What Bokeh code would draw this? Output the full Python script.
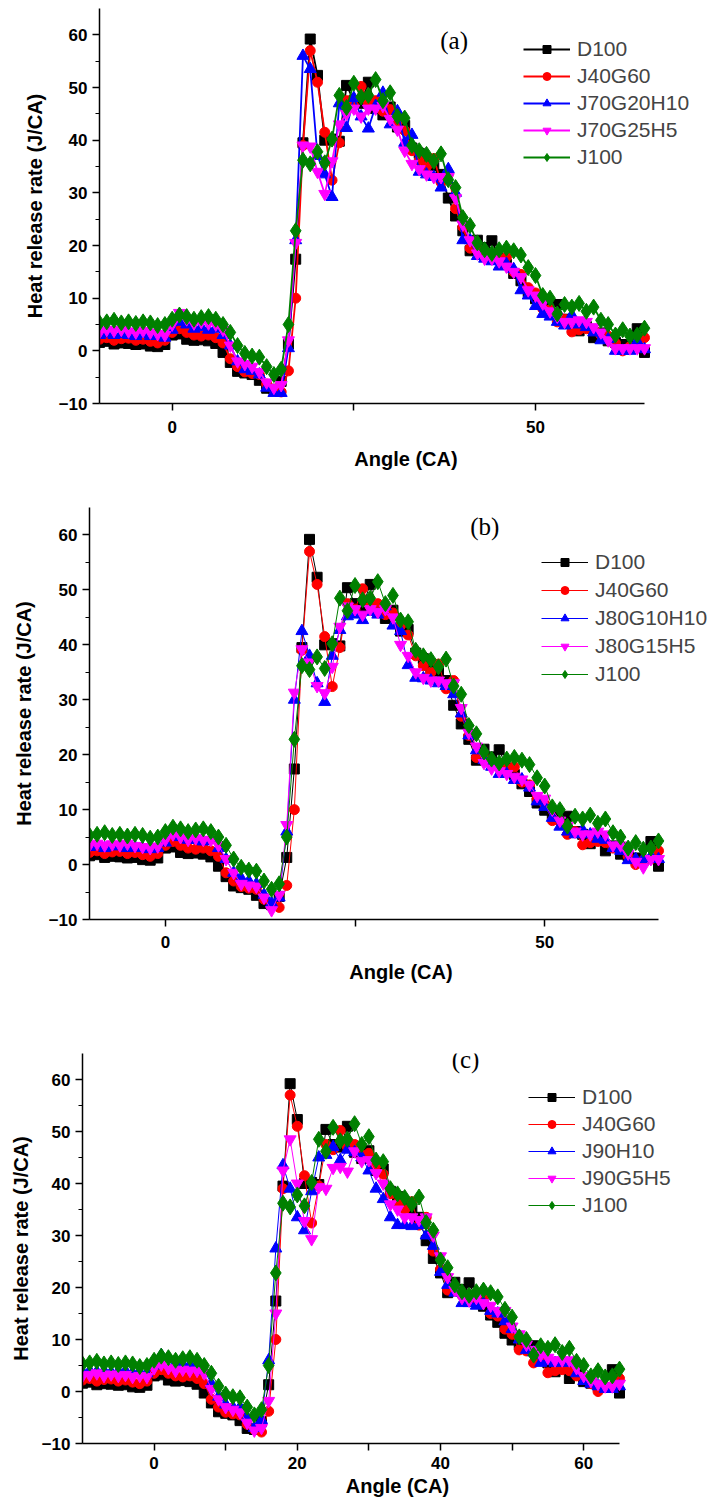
from bokeh.plotting import figure
from bokeh.models import Range1d, FixedTicker, Legend, LegendItem, Label
from bokeh.embed import file_html
from bokeh.resources import INLINE

ANGLE = list(range(-10, 66))

D100 = [1.6, 1.8, 1.3, 1.5, 1.4, 1.2, 1.3, 0.9, 0.8, 1.2,
        3.0, 3.2, 2.2, 2.0, 2.1, 1.9, 1.4, -0.3, -2.2, -3.9,
        -4.2, -4.5, -5.6, -7.1, -7.3, -5.8, 1.3, 17.4, 39.5, 59.2,
        52.3, 40.0, 40.2, 39.8, 50.4, 47.5, 47.0, 51.0, 46.0, 44.8,
        46.3, 42.5, 42.8, 38.5, 37.5, 35.5, 35.2, 33.5, 29.0, 25.6,
        22.8, 19.0, 21.0, 19.6, 20.9, 17.6, 16.4, 14.7, 13.3, 11.2,
        9.9, 9.0, 8.4, 8.8, 6.0, 5.5, 3.8, 4.6, 2.5, 3.4,
        1.9, 1.6, 1.2, 0.8, 4.2, -0.3]

J40G60 = [2.2, 2.5, 2.0, 2.3, 2.4, 2.0, 2.2, 1.8, 1.5, 2.0,
          3.5, 4.2, 3.5, 3.0, 2.8, 3.0, 2.5, 1.5, -1.5, -3.0,
          -4.0, -4.3, -4.5, -6.3, -7.3, -7.8, -3.8, 10.0, 39.0, 57.0,
          51.0, 41.5, 32.4, 39.5, 47.5, 46.5, 50.2, 47.0, 47.5, 45.5,
          45.8, 43.5, 41.8, 38.0, 36.2, 35.0, 36.5, 32.0, 33.5, 27.0,
          23.5, 19.5, 19.5, 18.5, 18.0, 17.5, 17.8, 15.0, 14.5, 12.0,
          11.0, 8.0, 7.8, 5.5, 6.0, 3.6, 4.0, 4.2, 4.0, 3.0,
          2.8, 1.5, 0.0, 0.8, 1.0, 2.5]

J100 = [5.3, 5.5, 5.8, 5.3, 5.5, 5.2, 5.5, 5.3, 4.8, 5.0,
        6.0, 6.8, 6.5, 6.0, 6.3, 6.5, 6.0, 5.0, 3.5, 1.0,
        -0.5, -1.0, -1.2, -3.0, -4.5, -3.5, 5.0, 22.8, 36.2, 35.5,
        37.8, 35.7, 40.2, 48.5, 46.2, 50.8, 48.2, 48.5, 51.5, 47.5,
        49.0, 44.5, 44.2, 39.0, 38.0, 37.3, 36.0, 37.4, 32.5, 31.0,
        25.3, 23.8, 20.5, 19.2, 18.5, 19.2, 19.5, 19.0, 18.2, 15.8,
        14.3, 10.5, 10.0, 7.0, 8.8, 8.3, 9.0, 7.5, 8.3, 5.8,
        5.0, 3.0, 4.0, 2.8, 3.0, 4.3]

J70G20H10 = [3.0, 3.3, 3.0, 3.2, 3.0, 2.8, 3.2, 2.8, 3.0, 2.5,
             4.0, 5.5, 5.0, 4.2, 4.5, 4.0, 4.2, 3.0, 1.0, -2.0,
             -3.5, -3.8, -4.5, -7.0, -8.0, -8.0, 0.5, 21.0, 56.0, 53.5,
             37.0, 33.5, 29.2, 47.0, 42.3, 48.0, 44.5, 42.2, 46.5, 49.0,
             43.0, 45.5, 39.5, 41.0, 34.0, 33.5, 33.0, 31.0, 34.5, 30.0,
             21.0, 21.0, 18.0, 17.5, 17.0, 16.0, 16.5, 15.5, 11.5, 10.5,
             8.5, 7.0, 6.5, 5.5, 4.8, 6.8, 5.0, 4.5, 3.5, 2.0,
             2.2, 0.0, 0.0, 0.0, 1.8, 0.3]

J70G25H5 = [3.5, 4.0, 3.8, 4.0, 3.7, 3.5, 3.8, 3.5, 3.2, 3.0,
            5.0, 7.2, 6.0, 5.2, 5.5, 5.2, 5.0, 4.0, 1.0, -2.0,
            -2.5, -3.0, -4.0, -6.0, -7.0, -6.5, 2.0, 20.5, 39.0, 38.8,
            34.0, 29.8, 36.0, 43.0, 45.0, 46.0, 44.5, 46.0, 46.0, 46.5,
            44.0, 42.0, 38.0, 35.5, 34.5, 33.5, 33.0, 33.0, 33.0, 29.0,
            24.0, 21.0, 18.5, 17.5, 17.5, 17.0, 16.0, 15.0, 14.0, 11.5,
            10.5, 9.0, 7.5, 6.5, 5.5, 5.5, 5.8, 5.5, 4.5, 3.5,
            2.0, 0.5, 0.5, 0.5, 0.5, 0.5]

J80G10H10 = [3.2, 3.5, 3.0, 3.3, 3.5, 3.0, 3.2, 3.0, 2.8, 3.0,
             4.0, 5.5, 5.0, 4.5, 4.5, 4.2, 4.5, 3.0, 1.0, -1.5,
             -2.5, -3.0, -3.5, -5.5, -7.0, -6.0, 6.0, 30.0, 42.5, 38.0,
             33.0, 29.6, 38.0, 42.7, 45.2, 45.5, 44.5, 46.0, 45.5, 47.0,
             43.5, 42.5, 36.3, 34.0, 33.9, 33.5, 33.0, 32.5, 31.0, 27.5,
             23.5, 20.8, 19.0, 17.8, 16.5, 16.5, 15.4, 15.5, 14.0, 11.5,
             10.5, 8.5, 6.9, 6.0, 5.5, 6.3, 5.5, 4.7, 4.5, 3.0,
             2.5, 0.8, 1.0, 1.0, 1.5, 1.0]

J80G15H5 = [3.5, 3.8, 3.5, 3.7, 3.5, 3.8, 3.4, 3.2, 3.0, 3.3,
            4.5, 5.5, 5.0, 4.5, 4.8, 4.5, 4.5, 3.5, 1.0, -1.5,
            -3.5, -3.8, -4.0, -6.0, -8.3, -5.5, 7.2, 31.3, 39.2, 36.8,
            32.5, 31.2, 36.0, 43.3, 47.0, 46.5, 45.5, 46.5, 46.0, 46.5,
            45.0, 40.0, 38.0, 35.0, 34.0, 33.5, 33.5, 33.0, 33.0, 28.5,
            24.0, 21.5, 18.5, 17.5, 17.0, 16.5, 16.0, 15.5, 14.5, 12.5,
            12.0, 10.0, 8.0, 7.0, 6.0, 5.5, 5.5, 6.0, 5.5, 3.5,
            3.5, 2.0, 0.5, -0.5, 1.0, 1.0]

J90H10 = [3.8, 4.0, 3.8, 4.0, 3.7, 3.9, 4.0, 3.6, 3.8, 3.5,
          5.0, 7.0, 6.5, 5.5, 5.0, 5.2, 5.0, 4.0, 1.5, -1.0,
          -2.5, -3.0, -3.0, -5.0, -7.0, -5.5, 6.0, 27.5, 43.5, 39.0,
          33.5, 31.0, 38.5, 45.0, 45.5, 47.0, 44.5, 46.5, 46.0, 45.0,
          42.5, 39.0, 37.0, 33.5, 32.0, 32.0, 31.8, 32.0, 30.0, 28.0,
          23.0, 20.5, 19.0, 17.0, 17.0, 16.5, 17.0, 15.5, 15.0, 13.5,
          12.0, 10.0, 8.0, 7.5, 5.5, 5.8, 5.5, 6.0, 5.5, 3.5,
          2.0, 1.5, 1.0, 0.5, 0.5, 1.0]

J90G5H5 = [3.0, 3.2, 3.5, 3.0, 3.3, 3.0, 3.2, 2.8, 3.0, 2.8,
           4.5, 5.2, 4.5, 4.0, 4.2, 4.0, 4.0, 3.5, 0.5, -1.5,
           -3.0, -3.5, -4.0, -6.0, -7.5, -7.0, -1.8, 15.0, 42.5, 48.5,
           40.0, 32.8, 29.3, 39.3, 39.0, 43.0, 43.2, 42.3, 46.2, 44.3,
           44.5, 42.0, 40.0, 36.0, 35.0, 33.5, 33.5, 33.0, 33.5, 30.0,
           26.0, 22.0, 19.5, 18.0, 17.5, 18.0, 17.0, 16.5, 15.5, 15.5,
           12.5, 11.0, 9.0, 8.0, 7.0, 6.5, 6.0, 6.0, 6.0, 4.5,
           3.0, 2.0, 1.5, 1.0, 1.0, 1.5]

Y_TICKS = [-10, 0, 10, 20, 30, 40, 50, 60]
Y_MINOR = [-5, 5, 15, 25, 35, 45, 55]

SANS = "Liberation Sans"
SERIF = "Liberation Serif"


def make_panel(tag, blue_name, blue, mag_name, mag, g):
    p = figure(frame_width=g["fw"], frame_height=g["fh"],
               min_border_left=g["bl"], min_border_right=g["br"],
               min_border_top=g["bt"], min_border_bottom=g["bb"],
               x_range=Range1d(-10, g["xend"]), y_range=Range1d(-10, 65),
               output_backend="svg", toolbar_location=None)
    p.outline_line_color = None
    p.xgrid.visible = False
    p.ygrid.visible = False
    p.background_fill_color = "white"
    p.border_fill_color = "white"

    lw = g["lw"]
    series = [
        ("D100", D100, "black", "square", 10),
        ("J40G60", J40G60, "#ff0000", "circle", 10),
        (blue_name, blue, "#0000ff", "triangle", 12),
        (mag_name, mag, "#ff00ff", "inverted_triangle", 12),
        ("J100", J100, "#008000", "diamond", 16),
    ]
    items = []
    for name, ys, col, mk, sz in series:
        lr = p.line(ANGLE, ys, line_color=col, line_width=lw)
        sr = p.scatter(ANGLE, ys, marker=mk, size=sz,
                       fill_color=col, line_color=col)
        items.append(LegendItem(label=name, renderers=[lr, sr]))

    leg = Legend(items=items, location=g["leg"], padding=0, margin=0,
                 spacing=g["sp"], glyph_width=47, glyph_height=20,
                 label_height=20, label_standoff=7,
                 label_text_font=SANS, label_text_font_size=g["lgfs"],
                 border_line_alpha=0, background_fill_alpha=0)
    p.add_layout(leg)

    p.add_layout(Label(x=g["tx"], y=g["ty"], text=tag, text_font=SERIF,
                       text_font_size="25px", text_align="center",
                       text_baseline="middle", text_color="black"))

    for ax in (p.xaxis[0], p.yaxis[0]):
        ax.axis_line_width = 1.5
        ax.axis_line_color = "black"
        ax.major_tick_line_width = 1.5
        ax.minor_tick_line_width = 1.2
        ax.major_tick_in = 0
        ax.minor_tick_in = 0
        ax.major_tick_out = 7
        ax.minor_tick_out = 4
        ax.major_label_text_font = SANS
        ax.major_label_text_font_style = "bold"
        ax.major_label_text_font_size = "17px"
        ax.major_label_text_color = "black"
        ax.axis_label_text_font = SANS
        ax.axis_label_text_font_style = "bold"
        ax.axis_label_text_color = "black"
        ax.axis_label_text_font_size = "20px"

    p.xaxis.bounds = (-10, 65)
    p.xaxis.ticker = FixedTicker(ticks=g["xt"], minor_ticks=[])
    p.xaxis.major_label_overrides = g["xo"]
    p.yaxis.ticker = FixedTicker(ticks=Y_TICKS, minor_ticks=Y_MINOR)
    p.xaxis.axis_label = "Angle (CA)"
    p.yaxis.axis_label = "Heat release rate (J/CA)"
    p.xaxis.major_label_standoff = g["xls"]
    p.xaxis.axis_label_standoff = g["xas"]
    p.yaxis.major_label_standoff = g["yls"]
    p.yaxis.axis_label_standoff = g["yas"]
    return p


# frame geometry: x range -10..65 spans the reference axis length;
# the frame is widened on the right (axis bounded at 65) so the legend fits
ga = dict(fw=613, fh=395, bl=99, br=2, bt=8, bb=87, lw=1.8,
          xend=-10 + 613 * 75 / 545,
          leg=(424, 234), sp=3, lgfs="21px", tx=38.8, ty=58.9,
          xt=[0, 25, 50], xo={25: ""},
          xls=10, xas=12, yls=5, yas=10)
gb = dict(fw=623, fh=412, bl=89, br=2, bt=17, bb=81, lw=1.0,
          xend=-10 + 623 * 75 / 569,
          leg=(452, 233), sp=4, lgfs="21px", tx=42.1, ty=61.6,
          xt=[0, 25, 50], xo={25: ""},
          xls=9, xas=10, yls=5, yas=11)
gc = dict(fw=630, fh=390, bl=82, br=2, bt=53, bb=55, lw=1.0,
          xend=-10 + 630 * 75 / 537,
          leg=(446, 226), sp=3, lgfs="21px", tx=43.5, ty=63.8,
          xt=[0, 10, 20, 30, 40, 50, 60], xo={10: "", 30: "", 50: ""},
          xls=6, xas=3, yls=5, yas=7)

pa = make_panel("(a)", "J70G20H10", J70G20H10, "J70G25H5", J70G25H5, ga)
pb = make_panel("(b)", "J80G10H10", J80G10H10, "J80G15H5", J80G15H5, gb)
pc = make_panel("(c)", "J90H10", J90H10, "J90G5H5", J90G5H5, gc)

# separate roots, stacked by the page, so each frame keeps its own left edge
open("out.html", "w").write(file_html([pa, pb, pc], INLINE))
